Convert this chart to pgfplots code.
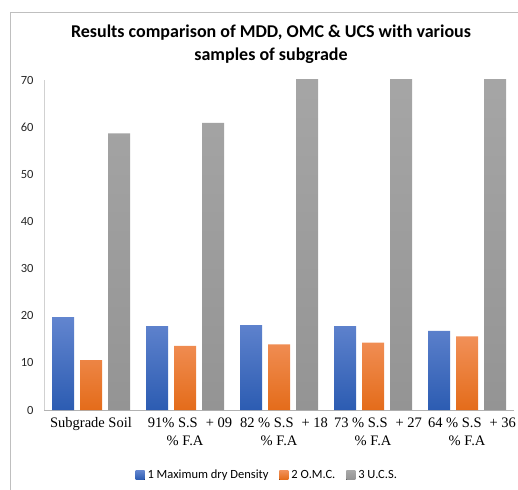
\documentclass[border=0pt]{standalone}
\usepackage{pgfplots}
\pgfplotsset{compat=1.18}
\usepackage{fontspec}
\setmainfont{Carlito}
\newfontfamily\timesf{Liberation Serif}
\definecolor{bluetop}{RGB}{98,133,207}
\definecolor{bluebot}{RGB}{44,92,178}
\definecolor{orgtop}{RGB}{241,144,88}
\definecolor{orgbot}{RGB}{228,108,26}
\definecolor{graytop}{RGB}{168,168,168}
\definecolor{graybot}{RGB}{148,148,148}
\begin{document}
\begin{tikzpicture}[x=1pt,y=1pt]
\useasboundingbox (0,0) rectangle (518,489);
\draw[black!25, line width=0.8pt] (10,-5) -- (10,477) -- (530,477);
\node[font=\bfseries\fontsize{18}{23}\selectfont, align=center] at (271,445) {Results comparison of MDD, OMC \& UCS with various\\samples of subgrade};
\begin{axis}[
  at={(44pt,79pt)}, anchor=south west,
  scale only axis, width=470pt, height=330pt,
  ymin=0, ymax=70, xmin=-0.5, xmax=4.5,
  ybar=6pt, bar width=22pt,
  axis x line*=bottom, axis y line*=left,
  x axis line style={draw=black!30, line width=0.8pt},
  y axis line style={draw=black!18, line width=0.8pt},
  major tick length=0pt,
  ytick={0,10,...,70},
  xtick={0,1,2,3,4},
  /pgf/number format/assume math mode=true,
  yticklabel style={font=\fontsize{12.5}{14}\selectfont, text=black!85, xshift=-7pt},
  xticklabel style={font=\timesf\fontsize{14.5}{18}\selectfont, align=center, yshift=-4pt},
  xticklabels={Subgrade Soil, {91\% S.S\hspace{8pt}+ 09\hspace{-10pt}\null\\\% F.A}, {82 \% S.S\hspace{8pt}+ 18\hspace{-10pt}\null\\\% F.A}, {73 \% S.S\hspace{8pt}+ 27\hspace{-10pt}\null\\\% F.A}, {64 \% S.S\hspace{8pt}+ 36\hspace{-10pt}\null\\\% F.A}},
  clip=true,
  legend columns=3,
  legend style={at={(0.475,-0.197)}, anchor=center, draw=none, fill=none,
    font=\fontsize{12.5}{14}\selectfont, column sep=9pt,
    /tikz/every odd column/.style={column sep=1pt}},
  legend image code/.code={\fill[#1] (0pt,-4.5pt) rectangle (9pt,4.5pt);},
]
\addplot[draw=none, top color=bluetop, bottom color=bluebot] coordinates {(0,19.7) (1,17.8) (2,18.0) (3,17.8) (4,16.8)};
\addplot[draw=none, top color=orgtop, bottom color=orgbot] coordinates {(0,10.6) (1,13.6) (2,13.9) (3,14.3) (4,15.6)};
\addplot[draw=none, top color=graytop, bottom color=graybot] coordinates {(0,58.7) (1,60.9) (2,76) (3,78) (4,80)};
\legend{1 Maximum dry Density, 2 O.M.C., 3 U.C.S.}
\end{axis}
\end{tikzpicture}
\end{document}
